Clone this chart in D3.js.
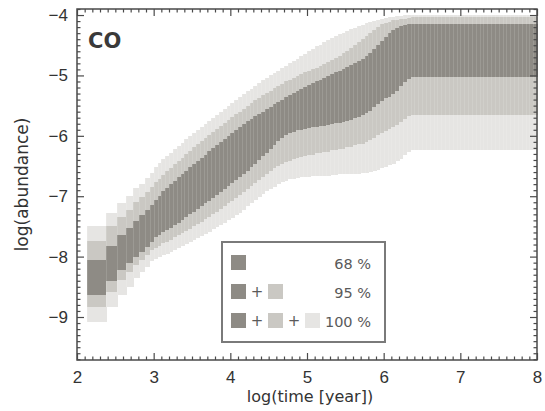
<!DOCTYPE html>
<html>
<head>
<meta charset="utf-8">
<script src="https://cdn.jsdelivr.net/npm/d3@7"></script>
<style>
  body { margin: 0; background: #fff; }
  svg { display: block; font-family: "DejaVu Sans", sans-serif; }
</style>
</head>
<body>
<div id="chart"></div>
<script>
// column edges in log(time [year])
const logTime = [
  2.13, 2.38, 2.525, 2.64, 2.735, 2.81, 2.885, 2.95,
  3.00, 3.05, 3.10, 3.15, 3.20, 3.25, 3.30, 3.35, 3.40, 3.45,
  3.50, 3.55, 3.60, 3.65, 3.70, 3.75, 3.80, 3.85, 3.90, 3.95,
  4.00, 4.05, 4.10, 4.15, 4.20, 4.25, 4.30, 4.35, 4.40, 4.45,
  4.50, 4.55, 4.60, 4.65, 4.70, 4.75, 4.80, 4.85, 4.90, 4.95,
  5.00, 5.05, 5.10, 5.15, 5.20, 5.25, 5.30, 5.35, 5.40, 5.45,
  5.50, 5.55, 5.60, 5.65, 5.70, 5.75, 5.80, 5.85, 5.90, 5.95,
  6.00, 6.05, 6.10, 6.15, 6.20, 6.25, 6.30, 6.35, 6.40, 6.45,
  6.50, 6.55, 6.60, 6.65, 6.70, 6.75, 6.80, 6.85, 6.90, 6.95,
  7.00, 7.05, 7.10, 7.15, 7.20, 7.25, 7.30, 7.35, 7.40, 7.45,
  7.50, 7.55, 7.60, 7.65, 7.70, 7.75, 7.80, 7.85, 7.90, 7.95,
  8.00
];

// upper edge of the 100 % band
const max100 = [
  -7.50, -7.27, -7.12, -7.00, -6.87, -6.79, -6.70, -6.62,
  -6.52, -6.45, -6.39, -6.34, -6.28, -6.22, -6.17, -6.12, -6.06, -6.01,
  -5.96, -5.90, -5.85, -5.80, -5.75, -5.70, -5.65, -5.60, -5.55, -5.50,
  -5.46, -5.41, -5.36, -5.31, -5.26, -5.22, -5.17, -5.13, -5.08, -5.04,
  -5.00, -4.96, -4.92, -4.88, -4.84, -4.80, -4.76, -4.72, -4.68, -4.64,
  -4.60, -4.56, -4.52, -4.49, -4.45, -4.42, -4.38, -4.35, -4.32, -4.29,
  -4.26, -4.23, -4.21, -4.18, -4.16, -4.14, -4.12, -4.10, -4.08, -4.07,
  -4.05, -4.04, -4.03, -4.02, -4.01, -4.00, -4.00,
  -4.00, -4.00, -4.00, -4.00, -4.00, -4.00, -4.00, -4.00, -4.00, -4.00, -4.00,
  -4.00, -4.00, -4.00, -4.00, -4.00, -4.00, -4.00, -4.00, -4.00, -4.00, -4.00,
  -4.00, -4.00, -4.00, -4.00, -4.00, -4.00, -4.00, -4.00, -4.00, -4.00, -4.00
];

// upper edge of the 95 % band
const hi95 = [
  -7.74, -7.50, -7.35, -7.22, -7.09, -7.01, -6.93, -6.84,
  -6.77, -6.71, -6.65, -6.59, -6.53, -6.47, -6.41, -6.36, -6.30, -6.25,
  -6.19, -6.14, -6.08, -6.03, -5.98, -5.93, -5.88, -5.83, -5.79, -5.74,
  -5.69, -5.64, -5.60, -5.55, -5.50, -5.46, -5.41, -5.37, -5.33, -5.29,
  -5.25, -5.21, -5.17, -5.14, -5.10, -5.07, -5.04, -5.01, -4.98, -4.95,
  -4.92, -4.90, -4.87, -4.84, -4.81, -4.78, -4.74, -4.71, -4.67, -4.63,
  -4.59, -4.54, -4.49, -4.44, -4.39, -4.34, -4.29, -4.24, -4.19, -4.15,
  -4.13, -4.11, -4.09, -4.08, -4.07, -4.06, -4.05,
  -4.04, -4.04, -4.04, -4.04, -4.04, -4.04, -4.04, -4.04, -4.04, -4.04, -4.04,
  -4.04, -4.04, -4.04, -4.04, -4.04, -4.04, -4.04, -4.04, -4.04, -4.04, -4.04,
  -4.04, -4.04, -4.04, -4.04, -4.04, -4.04, -4.04, -4.04, -4.04, -4.04, -4.04
];

// upper edge of the 68 % band
const hi68 = [
  -8.06, -7.82, -7.64, -7.53, -7.41, -7.31, -7.23, -7.15,
  -7.06, -6.99, -6.92, -6.86, -6.80, -6.74, -6.69, -6.63, -6.58, -6.52,
  -6.47, -6.41, -6.36, -6.31, -6.25, -6.20, -6.15, -6.10, -6.05, -6.00,
  -5.95, -5.90, -5.85, -5.81, -5.76, -5.72, -5.68, -5.64, -5.60, -5.56,
  -5.52, -5.48, -5.44, -5.40, -5.36, -5.33, -5.29, -5.26, -5.22, -5.19,
  -5.16, -5.13, -5.10, -5.07, -5.04, -5.01, -4.98, -4.95, -4.92, -4.89,
  -4.86, -4.83, -4.80, -4.76, -4.72, -4.68, -4.63, -4.57, -4.50, -4.43,
  -4.36, -4.30, -4.25, -4.21, -4.18, -4.16, -4.15,
  -4.15, -4.15, -4.15, -4.15, -4.15, -4.15, -4.15, -4.15, -4.15, -4.15, -4.15,
  -4.15, -4.15, -4.15, -4.15, -4.15, -4.15, -4.15, -4.15, -4.15, -4.15, -4.15,
  -4.15, -4.15, -4.15, -4.15, -4.15, -4.15, -4.15, -4.15, -4.15, -4.15, -4.15
];

// lower edge of the 68 % band
const lo68 = [
  -8.64, -8.41, -8.22, -8.11, -8.00, -7.92, -7.84, -7.75,
  -7.68, -7.64, -7.60, -7.56, -7.52, -7.48, -7.44, -7.39, -7.35, -7.30,
  -7.26, -7.21, -7.17, -7.12, -7.08, -7.03, -6.98, -6.93, -6.88, -6.83,
  -6.78, -6.73, -6.68, -6.63, -6.58, -6.52, -6.46, -6.40, -6.34, -6.28,
  -6.22, -6.15, -6.08, -6.03, -5.98, -5.95, -5.93, -5.91, -5.90, -5.89,
  -5.87, -5.86, -5.85, -5.84, -5.83, -5.82, -5.81, -5.79, -5.78, -5.77,
  -5.75, -5.73, -5.71, -5.69, -5.66, -5.63, -5.59, -5.53, -5.47, -5.42,
  -5.38, -5.35, -5.31, -5.25, -5.18, -5.11, -5.06,
  -5.03, -5.03, -5.03, -5.03, -5.03, -5.03, -5.03, -5.03, -5.03, -5.03, -5.03,
  -5.03, -5.03, -5.03, -5.03, -5.03, -5.03, -5.03, -5.03, -5.03, -5.03, -5.03,
  -5.03, -5.03, -5.03, -5.03, -5.03, -5.03, -5.03, -5.03, -5.03, -5.03, -5.03
];

// lower edge of the 95 % band
const lo95 = [
  -8.83, -8.58, -8.39, -8.25, -8.14, -8.06, -7.97, -7.89,
  -7.85, -7.82, -7.78, -7.75, -7.72, -7.68, -7.64, -7.61, -7.57, -7.54,
  -7.50, -7.46, -7.42, -7.38, -7.34, -7.30, -7.26, -7.21, -7.17, -7.12,
  -7.08, -7.03, -6.98, -6.93, -6.88, -6.83, -6.78, -6.73, -6.68, -6.63,
  -6.58, -6.54, -6.50, -6.47, -6.44, -6.41, -6.39, -6.37, -6.35, -6.34,
  -6.32, -6.31, -6.29, -6.28, -6.27, -6.26, -6.24, -6.23, -6.22, -6.21,
  -6.19, -6.18, -6.16, -6.14, -6.13, -6.10, -6.07, -6.03, -5.99, -5.95,
  -5.92, -5.89, -5.86, -5.82, -5.77, -5.72, -5.68,
  -5.66, -5.66, -5.66, -5.66, -5.66, -5.66, -5.66, -5.66, -5.66, -5.66, -5.66,
  -5.66, -5.66, -5.66, -5.66, -5.66, -5.66, -5.66, -5.66, -5.66, -5.66, -5.66,
  -5.66, -5.66, -5.66, -5.66, -5.66, -5.66, -5.66, -5.66, -5.66, -5.66, -5.66
];

// lower edge of the 100 % band
const min100 = [
  -9.08, -8.83, -8.64, -8.50, -8.36, -8.25, -8.17, -8.08,
  -8.04, -8.01, -7.98, -7.95, -7.92, -7.89, -7.85, -7.82, -7.79, -7.76,
  -7.72, -7.69, -7.66, -7.62, -7.59, -7.55, -7.51, -7.48, -7.44, -7.40,
  -7.36, -7.31, -7.27, -7.22, -7.17, -7.12, -7.07, -7.02, -6.97, -6.92,
  -6.88, -6.84, -6.80, -6.77, -6.74, -6.72, -6.71, -6.70, -6.69, -6.68,
  -6.68, -6.67, -6.67, -6.66, -6.66, -6.66, -6.65, -6.65, -6.64, -6.64,
  -6.64, -6.63, -6.63, -6.63, -6.62, -6.62, -6.60, -6.58, -6.56, -6.54,
  -6.52, -6.49, -6.46, -6.42, -6.38, -6.32, -6.27,
  -6.24, -6.24, -6.24, -6.24, -6.24, -6.24, -6.24, -6.24, -6.24, -6.24, -6.24,
  -6.24, -6.24, -6.24, -6.24, -6.24, -6.24, -6.24, -6.24, -6.24, -6.24, -6.24,
  -6.24, -6.24, -6.24, -6.24, -6.24, -6.24, -6.24, -6.24, -6.24, -6.24, -6.24
];

const xTicks = [2, 3, 4, 5, 6, 7, 8];
const yTicks = [-4, -5, -6, -7, -8, -9];
const legendRows = ["68 %", "95 %", "100 %"];

const colors = { c100: "#e6e5e3", c95: "#cac8c3", c68: "#8e8b85" };
const axisColor = "#4a4a4a";
const textColor = "#333";

const width = 545, height = 411;
const margin = ({top: 9, right: 8, bottom: 51, left: 77});

var x = d3.scaleLinear()
  .domain([2, 8])
  .range([margin.left, width - margin.right]);

var y = d3.scaleLinear()
  .domain([-3.9, -9.712])
  .range([margin.top, height - margin.bottom]);

const svg = d3.select("#chart").append("svg")
  .attr("width", width)
  .attr("height", height);

// build one record per column
const cols = max100.map((v, i) => ({
  t0: logTime[i], t1: logTime[i + 1],
  bands: [
    {lo: min100[i], hi: max100[i], fill: colors.c100},
    {lo: lo95[i], hi: hi95[i], fill: colors.c95},
    {lo: lo68[i], hi: hi68[i], fill: colors.c68}
  ]
}));

const plot = svg.append("g").attr("shape-rendering", "crispEdges");

var entry = plot.selectAll(".col")
  .data(cols)
  .enter().append("g")
  .attr("class", "col");

entry.selectAll("rect")
  .data(d => d.bands.map(b => Object.assign({t0: d.t0, t1: d.t1}, b)))
  .enter().append("rect")
  .attr("x", d => x(d.t0))
  .attr("width", d => x(d.t1) - x(d.t0) + 0.5)
  .attr("y", d => y(d.hi))
  .attr("height", d => y(d.lo) - y(d.hi))
  .style("fill", d => d.fill);

// faint seams between the columns
entry.append("rect")
  .attr("x", d => x(d.t0))
  .attr("width", 1)
  .attr("y", d => y(d.bands[0].hi))
  .attr("height", d => y(d.bands[0].lo) - y(d.bands[0].hi))
  .style("fill", "#fff")
  .style("opacity", 0.13);

// axes: major + minor ticks on all four sides, pointing inwards
const xMinor = d3.range(20, 81).map(v => v / 10).filter(v => v % 1 !== 0);
const yMinor = d3.range(-97, -38).map(v => v / 10).filter(v => v % 1 !== 0);

function styleAxis(g) {
  g.select(".domain").remove();
  g.selectAll("line").attr("stroke", axisColor).attr("stroke-width", 1.2);
  g.selectAll("text").attr("fill", textColor).attr("font-size", 17);
}

const bottomY = y.range()[1], topY = y.range()[0];
const leftX = x.range()[0], rightX = x.range()[1];

svg.append("g").attr("transform", `translate(0,${bottomY})`)
  .call(d3.axisBottom(x).tickValues(xTicks).tickSize(-7).tickPadding(11).tickFormat(d3.format("d")))
  .call(styleAxis);
svg.append("g").attr("transform", `translate(0,${bottomY})`)
  .call(d3.axisBottom(x).tickValues(xMinor).tickSize(-3.5).tickFormat(""))
  .call(styleAxis);
svg.append("g").attr("transform", `translate(0,${topY})`)
  .call(d3.axisTop(x).tickValues(xTicks).tickSize(-7).tickFormat(""))
  .call(styleAxis);
svg.append("g").attr("transform", `translate(0,${topY})`)
  .call(d3.axisTop(x).tickValues(xMinor).tickSize(-3.5).tickFormat(""))
  .call(styleAxis);

svg.append("g").attr("transform", `translate(${leftX},0)`)
  .call(d3.axisLeft(y).tickValues(yTicks).tickSize(-7).tickPadding(9).tickFormat(d3.format("d")))
  .call(styleAxis);
svg.append("g").attr("transform", `translate(${leftX},0)`)
  .call(d3.axisLeft(y).tickValues(yMinor).tickSize(-3.5).tickFormat(""))
  .call(styleAxis);
svg.append("g").attr("transform", `translate(${rightX},0)`)
  .call(d3.axisRight(y).tickValues(yTicks).tickSize(-7).tickFormat(""))
  .call(styleAxis);
svg.append("g").attr("transform", `translate(${rightX},0)`)
  .call(d3.axisRight(y).tickValues(yMinor).tickSize(-3.5).tickFormat(""))
  .call(styleAxis);

// frame
svg.append("rect")
  .attr("x", leftX).attr("y", topY)
  .attr("width", rightX - leftX).attr("height", bottomY - topY)
  .attr("fill", "none")
  .attr("stroke", axisColor)
  .attr("stroke-width", 1.5);

// titles
svg.append("text")
  .attr("x", (leftX + rightX) / 2 + 3)
  .attr("y", 402)
  .attr("text-anchor", "middle")
  .attr("font-size", 16)
  .attr("fill", textColor)
  .text("log(time [year])");

svg.append("text")
  .attr("transform", `translate(28,${(topY + bottomY) / 2}) rotate(-90)`)
  .attr("text-anchor", "middle")
  .attr("font-size", 17)
  .attr("fill", textColor)
  .text("log(abundance)");

svg.append("text")
  .attr("x", 88).attr("y", 48)
  .attr("font-size", 21)
  .attr("font-weight", "bold")
  .attr("fill", "#3a3a3a")
  .text("CO");

// legend
const legend = svg.append("g").attr("transform", "translate(222,242)");
legend.append("rect")
  .attr("width", 163).attr("height", 100)
  .attr("fill", "#fff")
  .attr("stroke", "#7a7a7a")
  .attr("stroke-width", 2);

const swatch = [colors.c68, colors.c95, colors.c100];
legendRows.forEach((label, i) => {
  const row = legend.append("g").attr("transform", `translate(0,${13 + i * 29})`);
  for (let k = 0; k <= i; k++) {
    row.append("rect")
      .attr("x", 9 + k * 37).attr("y", 0)
      .attr("width", 15).attr("height", 15)
      .attr("fill", swatch[k]);
    if (k > 0) {
      row.append("text")
        .attr("x", 9 + k * 37 - 11).attr("y", 13)
        .attr("text-anchor", "middle")
        .attr("font-size", 15)
        .attr("fill", "#5a5a5a")
        .text("+");
    }
  }
  row.append("text")
    .attr("x", 149).attr("y", 13.5)
    .attr("text-anchor", "end")
    .attr("font-size", 14.5)
    .attr("fill", "#5a5a5a")
    .text(label);
});
</script>
</body>
</html>
